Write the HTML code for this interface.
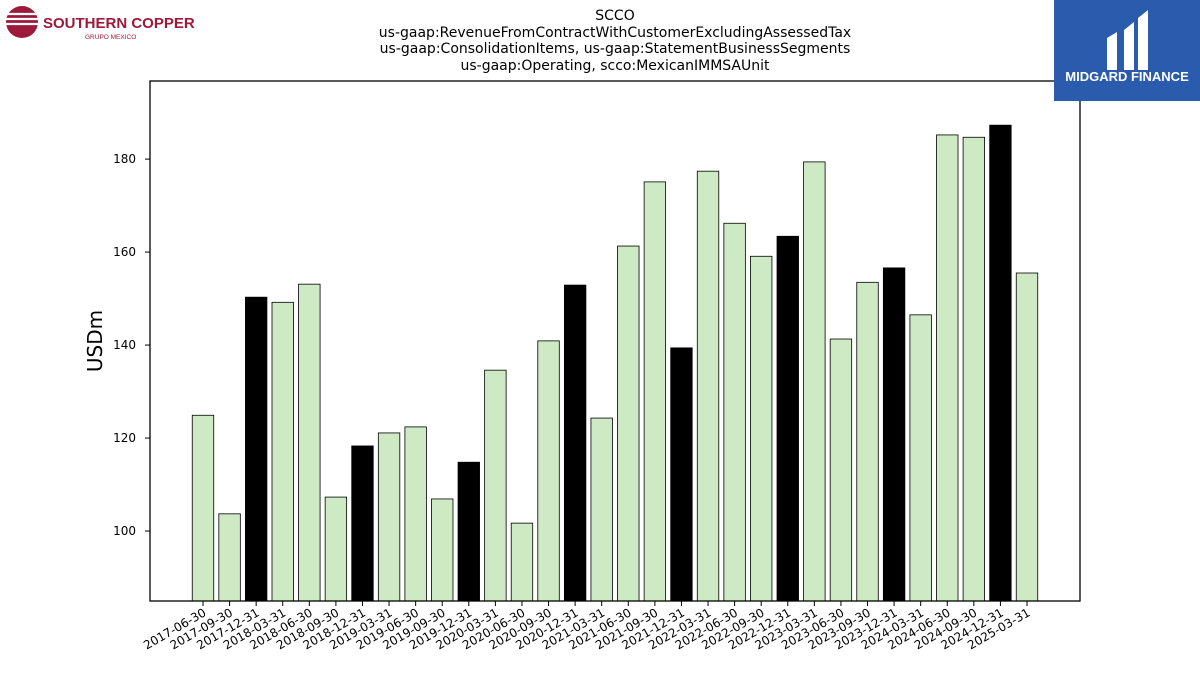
<!DOCTYPE html>
<html><head><meta charset="utf-8"><style>
body{margin:0;width:1200px;height:675px;background:#fff;overflow:hidden;font-family:"Liberation Sans","DejaVu Sans",sans-serif}
</style></head><body>
<svg id="chart" width="1200" height="675" xmlns="http://www.w3.org/2000/svg" font-family="DejaVu Sans, Liberation Sans, sans-serif">
<g>
<circle cx="22" cy="22" r="16" fill="#9c1a3a"/>
<path d="M6 14 H38 M6 19 H38 M6 24 H38" stroke="#fff" stroke-width="2.2"/>
<text x="43" y="28" font-size="15" font-weight="bold" fill="#9c1a3a" font-family="Liberation Sans, sans-serif">SOUTHERN COPPER</text>
<text x="85" y="39" font-size="6.5" fill="#9c1a3a" font-family="Liberation Sans, sans-serif">GRUPO MEXICO</text>
</g>
<g font-size="14" text-anchor="middle" fill="#000">
<text x="615" y="20">SCCO</text>
<text x="615" y="37">us-gaap:RevenueFromContractWithCustomerExcludingAssessedTax</text>
<text x="615" y="53">us-gaap:ConsolidationItems, us-gaap:StatementBusinessSegments</text>
<text x="615" y="70">us-gaap:Operating, scco:MexicanIMMSAUnit</text>
</g>
<text transform="translate(102,341) rotate(-90)" font-size="20" text-anchor="middle">USDm</text>
<g id="bars"></g>
<g id="yaxis"></g>
<g id="xaxis"></g>
<rect x="150" y="81" width="930" height="520" fill="none" stroke="#000" stroke-width="1.3"/>
<g>
<rect x="1054" y="0" width="146" height="101" fill="#2b5bad"/>
<path d="M1107 38 L1117 32 V70 L1107 70 Z M1124 30 L1134 22 V70 L1124 70 Z M1138 18 L1148 10 V70 L1138 70 Z" fill="#fff"/>
<text x="1127" y="81" font-size="13" font-weight="bold" fill="#fff" text-anchor="middle" font-family="Liberation Sans, sans-serif">MIDGARD FINANCE</text>
</g>
</svg>
<script>
const categories=["2017-06-30","2017-09-30","2017-12-31","2018-03-31","2018-06-30","2018-09-30","2018-12-31","2019-03-31","2019-06-30","2019-09-30","2019-12-31","2020-03-31","2020-06-30","2020-09-30","2020-12-31","2021-03-31","2021-06-30","2021-09-30","2021-12-31","2022-03-31","2022-06-30","2022-09-30","2022-12-31","2023-03-31","2023-06-30","2023-09-30","2023-12-31","2024-03-31","2024-06-30","2024-09-30","2024-12-31","2025-03-31"];
const values=[124.9,103.7,150.3,149.2,153.1,107.3,118.3,121.1,122.4,106.9,114.8,134.6,101.7,140.9,152.9,124.3,161.3,175.1,139.4,177.4,166.2,159.1,163.4,179.4,141.3,153.5,156.6,146.5,185.2,184.7,187.3,155.5];
const yTicks=[100,120,140,160,180];
const NS="http://www.w3.org/2000/svg";
const yMin=84.95,yMax=196.8,yTop=81,yBot=601;
function y(v){return yBot-(v-yMin)/(yMax-yMin)*(yBot-yTop);}
const x0=203,step=(1027-203)/31,bw=21.5;
function x(i){return x0+i*step;}
function mk(t,a,p){const e=document.createElementNS(NS,t);for(const k in a)e.setAttribute(k,a[k]);p.appendChild(e);return e;}
const gb=document.getElementById('bars'),gy=document.getElementById('yaxis'),gx=document.getElementById('xaxis');
values.forEach((v,i)=>{
 const black=categories[i].endsWith('12-31');
 const r=mk('rect',{x:x(i)-bw/2,y:y(v),width:bw,height:yBot-y(v),fill:black?'#000':'#cdeac5',stroke:'#000','stroke-width':0.8},gb);
 
 
 const t=mk('line',{x1:x(i),x2:x(i),y1:yBot,y2:yBot+5,stroke:'#000','stroke-width':1},gx);
 
 
 const l=mk('text',{transform:`translate(${x(i)+4},${yBot+14}) rotate(-30)`,'font-size':12,'text-anchor':'end'},gx);
 l.textContent=categories[i];
 
 
});
yTicks.forEach(v=>{
 const t=mk('line',{x1:145,x2:150,y1:y(v),y2:y(v),stroke:'#000','stroke-width':1},gy);
 
 
 const l=mk('text',{x:136,y:y(v)+4,'font-size':12,'text-anchor':'end'},gy);
 l.textContent=v;
 
 
});
</script>
</body></html>
